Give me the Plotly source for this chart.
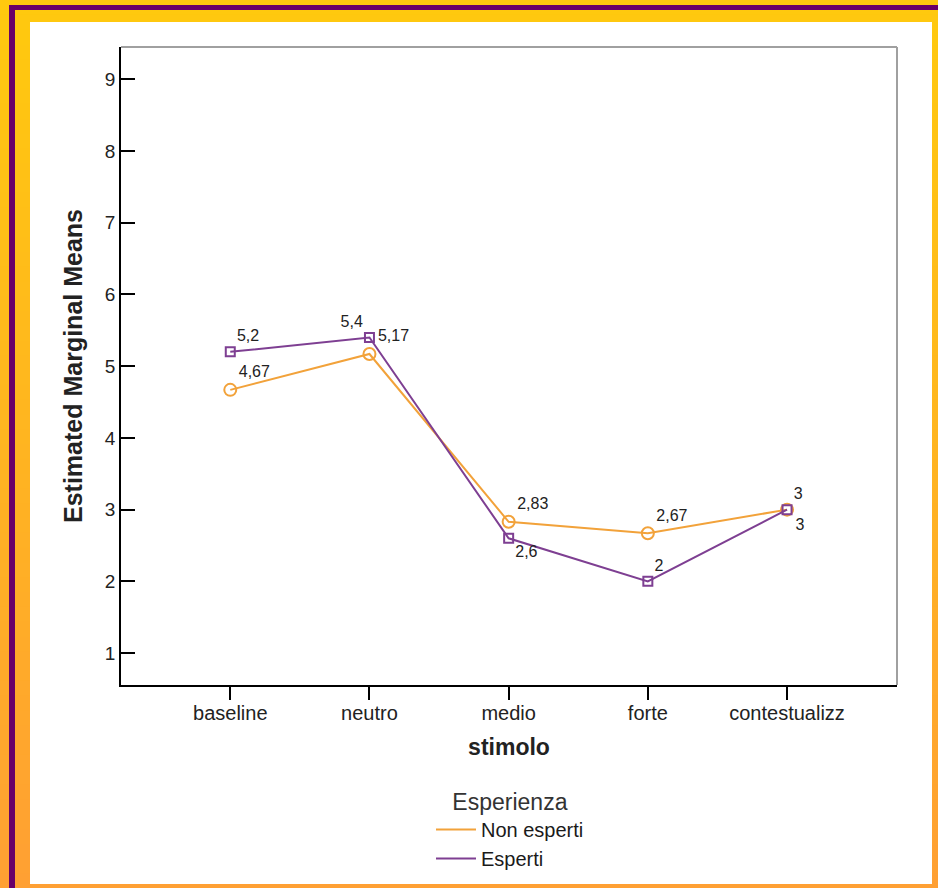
import plotly.graph_objects as go

# ---------------- data ----------------
categories = ["baseline", "neutro", "medio", "forte", "contestualizz"]
non_esperti = [4.67, 5.17, 2.83, 2.67, 3.0]
esperti = [5.2, 5.4, 2.6, 2.0, 3.0]
non_esperti_labels = ["4,67", "5,17", "2,83", "2,67", "3"]
esperti_labels = ["5,2", "5,4", "2,6", "2", "3"]
y_ticks = [1, 2, 3, 4, 5, 6, 7, 8, 9]

# ---------------- style ----------------
W, H = 938, 888
ML, MR, MT, MB = 121, 41, 47, 203
PW, PH = W - ML - MR, H - MT - MB
ORANGE = "#F2A23A"
PURPLE = "#7E3F92"
FONT = "Arial, Liberation Sans, sans-serif"


def px(x):
    return (x - ML) / PW


def py(y):
    return (H - MB - y) / PH


shapes = []
# gradient frame background (yellow -> orange, top to bottom)
n = 60
c0 = (0xFF, 0xC9, 0x0E)
c1 = (0xFF, 0xA0, 0x33)
for i in range(n):
    t = i / (n - 1)
    col = "rgb(%d,%d,%d)" % tuple(round(a + (b - a) * t) for a, b in zip(c0, c1))
    shapes.append(dict(type="rect", xref="paper", yref="paper", layer="below",
                       x0=px(0), x1=px(W), y0=py(H * i / n), y1=py(H * (i + 1) / n + 1),
                       fillcolor=col, line=dict(width=0)))
# purple border lines
shapes.append(dict(type="rect", xref="paper", yref="paper", layer="below",
                   x0=px(9), x1=px(W), y0=py(5), y1=py(10),
                   fillcolor="#6A0068", line=dict(width=0)))
shapes.append(dict(type="rect", xref="paper", yref="paper", layer="below",
                   x0=px(9), x1=px(15), y0=py(5), y1=py(H),
                   fillcolor="#6A0068", line=dict(width=0)))
# white panel
shapes.append(dict(type="rect", xref="paper", yref="paper", layer="below",
                   x0=px(30), x1=px(932), y0=py(22), y1=py(884),
                   fillcolor="white", line=dict(width=0)))
# gray top/right frame of plot area
shapes.append(dict(type="line", xref="paper", yref="paper", x0=0, x1=1, y0=1, y1=1,
                   line=dict(color="#A0A0A0", width=2)))
shapes.append(dict(type="line", xref="paper", yref="paper", x0=1, x1=1, y0=0, y1=1,
                   line=dict(color="#A0A0A0", width=2)))

fig = go.Figure()
fig.add_trace(go.Scatter(
    x=categories, y=non_esperti, mode="lines+markers+text", name="Non esperti",
    text=non_esperti_labels,
    textposition=["top right", "top right", "top right", "top right", "bottom right"],
    textfont=dict(size=16, color="#222", family=FONT),
    line=dict(color=ORANGE, width=2),
    marker=dict(symbol="circle-open", size=12, color=ORANGE, line=dict(width=2)),
    showlegend=False, cliponaxis=False))
fig.add_trace(go.Scatter(
    x=categories, y=esperti, mode="lines+markers+text", name="Esperti",
    text=esperti_labels,
    textposition=["top right", "top left", "bottom right", "top right", "top right"],
    textfont=dict(size=16, color="#222", family=FONT),
    line=dict(color=PURPLE, width=2),
    marker=dict(symbol="square-open", size=9, color=PURPLE, line=dict(width=2)),
    showlegend=False, cliponaxis=False))
# legend entries (line only)
fig.add_trace(go.Scatter(x=[None], y=[None], mode="lines", name="Non esperti",
                         line=dict(color=ORANGE, width=2)))
fig.add_trace(go.Scatter(x=[None], y=[None], mode="lines", name="Esperti",
                         line=dict(color=PURPLE, width=2)))

fig.update_layout(
    width=W, height=H,
    margin=dict(l=ML, r=MR, t=MT, b=MB, autoexpand=False),
    paper_bgcolor="white", plot_bgcolor="rgba(0,0,0,0)",
    font=dict(family=FONT, color="#222"),
    shapes=shapes,
    legend=dict(
        title=dict(text="Esperienza", side="top center",
                   font=dict(size=23, color="#333", family=FONT)),
        font=dict(size=20, color="#1a1a1a", family=FONT),
        x=px(510), xanchor="center", y=py(780), yanchor="top",
        bgcolor="rgba(0,0,0,0)", itemwidth=40, tracegroupgap=0,
    ),
    xaxis=dict(
        range=[-0.785, 4.79], showgrid=False, zeroline=False,
        showline=True, linecolor="black", linewidth=1.5,
        ticks="outside", ticklen=13, tickwidth=1.5, tickcolor="black",
        ticklabelstandoff=-4,
        tickfont=dict(size=20, color="#222", family=FONT),
        title=dict(text="<b>stimolo</b>", font=dict(size=23, color="#222", family=FONT),
                   standoff=16),
    ),
    yaxis=dict(
        range=[0.555, 9.45], tickvals=y_ticks, showgrid=False, zeroline=False,
        showline=True, linecolor="black", linewidth=1.5,
        ticks="inside", ticklen=14, tickwidth=1.5, tickcolor="black",
        tickfont=dict(size=19, color="#222", family=FONT),
        title=dict(text="<b>Estimated Marginal Means</b>",
                   font=dict(size=25, color="#222", family=FONT), standoff=15),
    ),
)

fig.write_html("out.html", config={"displayModeBar": False},
               post_script="document.body.style.margin='0';document.body.style.overflow='hidden';")
